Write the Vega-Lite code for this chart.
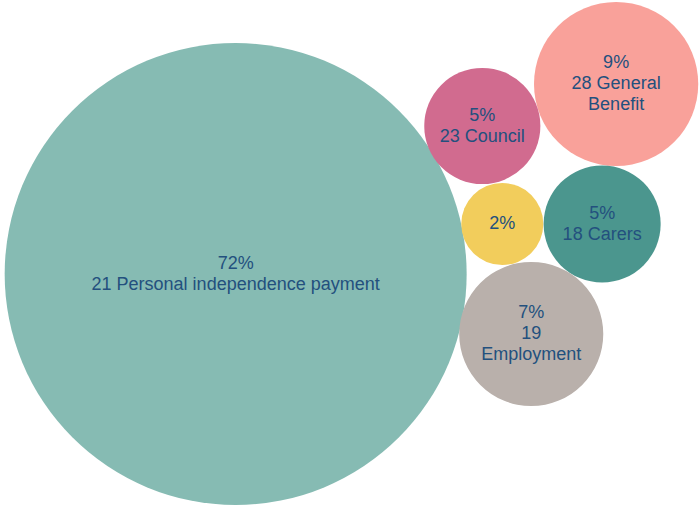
{
  "$schema": "https://vega.github.io/schema/vega-lite/v6.json",
  "width": 699,
  "height": 506,
  "padding": 0,
  "autosize": {"type": "fit", "contains": "padding"},
  "background": "#ffffff",
  "config": {"view": {"stroke": null}},
  "data": {
    "values": [
      {"category": "Personal independence payment", "code": 21, "pct": 72, "share": 72, "label": "72%\n21 Personal independence payment", "x": 236, "y": 274},
      {"category": "General Benefit", "code": 28, "pct": 9, "share": 9.1, "label": "9%\n28 General\nBenefit", "x": 617, "y": 84},
      {"category": "Council", "code": 23, "pct": 5, "share": 4.55, "label": "5%\n23 Council", "x": 483, "y": 126},
      {"category": "Other", "code": null, "pct": 2, "share": 2.27, "label": "2%", "x": 503, "y": 224},
      {"category": "Carers", "code": 18, "pct": 5, "share": 4.62, "label": "5%\n18 Carers", "x": 603, "y": 224},
      {"category": "Employment", "code": 19, "pct": 7, "share": 7, "label": "7%\n19\nEmployment", "x": 532, "y": 334}
    ]
  },
  "encoding": {
    "x": {"field": "x", "type": "quantitative", "scale": {"domain": [0, 699], "nice": false, "zero": false}, "axis": null},
    "y": {"field": "y", "type": "quantitative", "scale": {"domain": [0, 506], "nice": false, "zero": false, "reverse": true}, "axis": null}
  },
  "layer": [
    {
      "mark": {"type": "circle", "opacity": 1, "strokeWidth": 0},
      "encoding": {
        "size": {"field": "share", "type": "quantitative", "scale": {"type": "linear", "domain": [0, 72], "range": [0, 213444], "zero": true, "nice": false}, "legend": null},
        "color": {
          "field": "category", "type": "nominal", "legend": null,
          "scale": {
            "domain": ["Personal independence payment", "General Benefit", "Council", "Other", "Carers", "Employment"],
            "range": ["#86bbb3", "#f9a19a", "#d16b8f", "#f2cd5c", "#4b968e", "#b9b0ab"]
          }
        }
      }
    },
    {
      "transform": [{"filter": "length(split(datum.label, '\\n')) == 1"}],
      "mark": {"type": "text", "align": "center", "baseline": "middle", "lineBreak": "\n", "lineHeight": 21, "font": "Liberation Sans", "fontSize": 18, "color": "#23507e"},
      "encoding": {"text": {"field": "label", "type": "nominal"}}
    },
    {
      "transform": [{"filter": "length(split(datum.label, '\\n')) == 2"}],
      "mark": {"type": "text", "align": "center", "baseline": "middle", "lineBreak": "\n", "lineHeight": 21, "dy": -10.5, "font": "Liberation Sans", "fontSize": 18, "color": "#23507e"},
      "encoding": {"text": {"field": "label", "type": "nominal"}}
    },
    {
      "transform": [{"filter": "length(split(datum.label, '\\n')) == 3"}],
      "mark": {"type": "text", "align": "center", "baseline": "middle", "lineBreak": "\n", "lineHeight": 21, "dy": -21, "font": "Liberation Sans", "fontSize": 18, "color": "#23507e"},
      "encoding": {"text": {"field": "label", "type": "nominal"}}
    }
  ]
}
